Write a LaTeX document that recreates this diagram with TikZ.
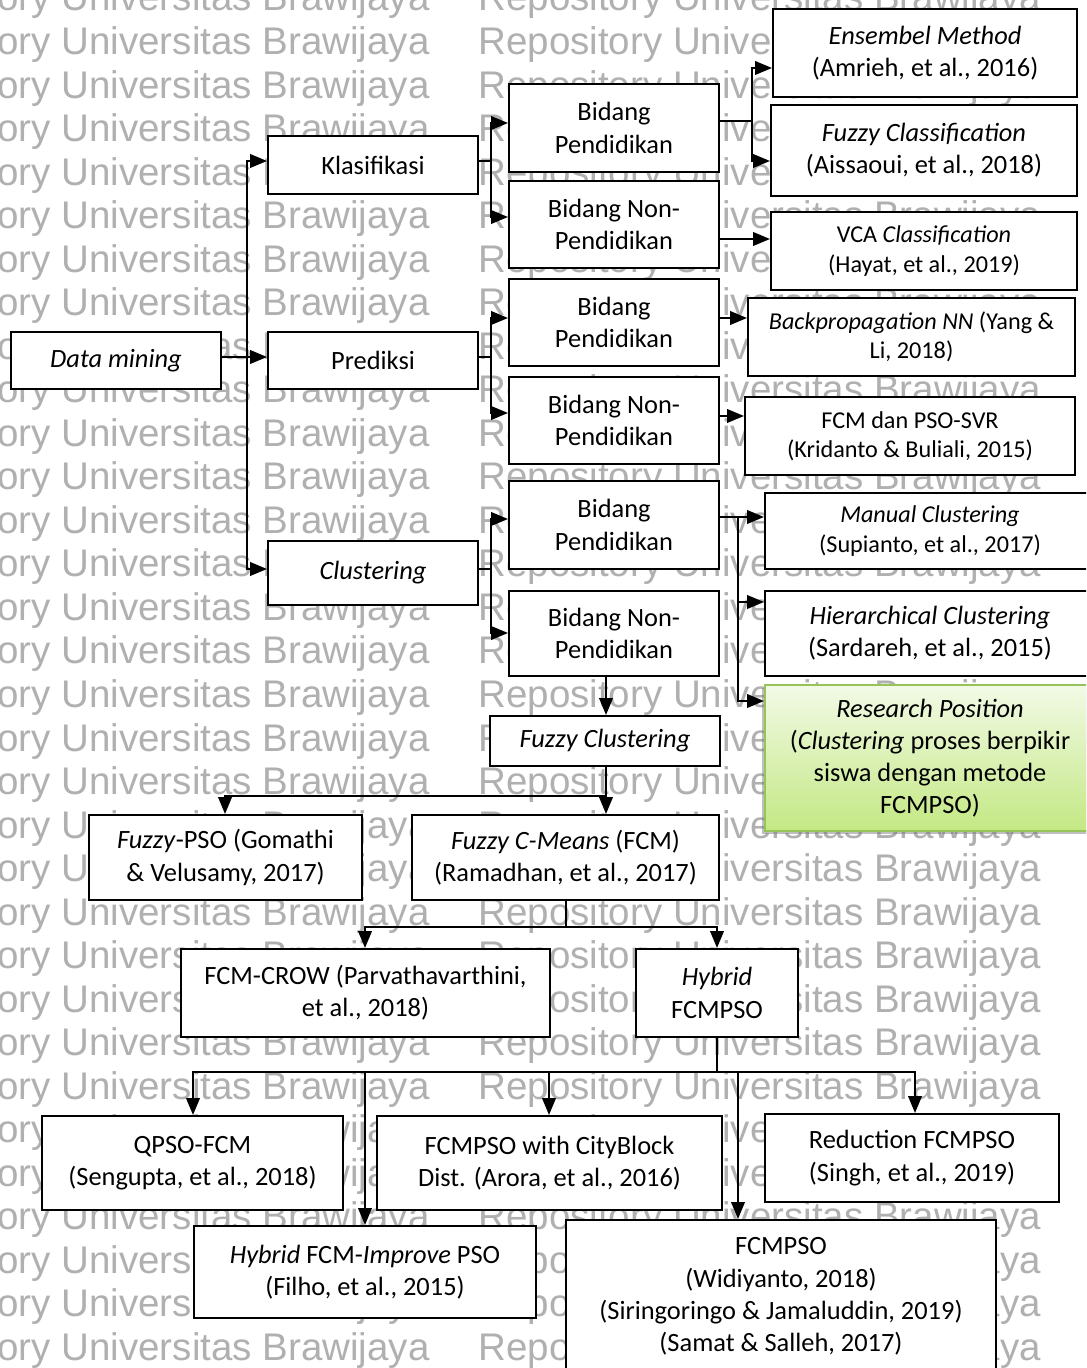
\documentclass[tikz,border=0pt]{standalone}
\usepackage{fontspec}
\setmainfont{Carlito}
\newfontfamily\wmfont{Liberation Sans}
\usetikzlibrary{arrows.meta,shadows}
\definecolor{wmgray}{RGB}{176,176,176}
\definecolor{rpTop}{RGB}{242,250,230}
\definecolor{rpBot}{RGB}{196,232,132}
\definecolor{rpLine}{RGB}{150,196,90}
\newcommand\bigf{\fontsize{13.2pt}{16.1pt}\selectfont}
\newcommand\smallf{\fontsize{12.1pt}{14.7pt}\selectfont}
\newcommand\mkbox[7][]{%
  \pgfmathsetmacro\mkw{(#5-#3)*0.5}%
  \pgfmathsetmacro\mkh{(#6-#4)*0.5}%
  \node[box,minimum width=\mkw pt,minimum height=\mkh pt,#1] (#2) at ({(#3+#5)/2},{(#4+#6)/2}) {#7};}
\begin{document}
\begin{tikzpicture}[x=0.5pt,y=-0.5pt,
  box/.style={draw, line width=1pt, fill=white, align=center, inner sep=0pt, font=\bigf},
  smallbox/.style={font=\smallf},
  arr/.style={draw, line width=1pt, -{Triangle[length=8.5pt,width=6.8pt]}},
  wm/.style={font={\wmfont\fontsize{19.25pt}{22pt}\selectfont}, text=wmgray, inner sep=0pt}]
\useasboundingbox (0,0) rectangle (1086,1368);
\clip (0,0) rectangle (1086,1368);
\fill[white] (0,0) rectangle (1086,1368);
% watermark
\foreach \k in {0,...,31} {
  \pgfmathsetmacro\yy{11+43.53*\k}
  \node[wm, anchor=base east] (wmL\k) at (430,\yy) {Repository Universitas Brawijaya};
  \node[wm, anchor=base west] (wmR\k) at (478,\yy) {Repository Universitas Brawijaya};
}
% level 1-2
\mkbox{dm}{11}{332}{221}{389}{\textit{Data mining}}
\mkbox{klas}{268}{136}{478}{194}{Klasifikasi}
\mkbox{pred}{268}{332}{478}{389}{Prediksi}
\mkbox{clus}{268}{541}{478}{605}{\textit{Clustering}}
% bidang
\mkbox{b1}{509}{84}{719}{172}{Bidang\\Pendidikan}
\mkbox{b2}{509}{181}{719}{268}{Bidang Non-\\Pendidikan}
\mkbox{b3}{509}{279}{719}{366}{Bidang\\Pendidikan}
\mkbox{b4}{509}{377}{719}{464}{Bidang Non-\\Pendidikan}
\mkbox{b5}{509}{481}{719}{569}{Bidang\\Pendidikan}
\mkbox{b6}{509}{591}{719}{676}{Bidang Non-\\Pendidikan}
% right column
\mkbox{ens}{773}{9}{1077}{97}{\textit{Ensembel Method}\\(Amrieh, et al., 2016)}
\mkbox{fcl}{771}{105}{1077}{196}{\textit{Fuzzy Classification}\\(Aissaoui, et al., 2018)}
\mkbox[smallbox]{vca}{771}{212}{1077}{290}{VCA \textit{Classification}\\(Hayat, et al., 2019)}
\mkbox[smallbox]{bp}{748}{298}{1075}{376}{\textit{Backpropagation NN} (Yang \&\\Li, 2018)}
\mkbox[smallbox]{svr}{745}{397}{1075}{475}{FCM dan PSO-SVR\\(Kridanto \& Buliali, 2015)}
\mkbox[smallbox]{man}{765}{493}{1095}{569}{\textit{Manual Clustering}\\(Supianto, et al., 2017)}
\mkbox{hier}{765}{591}{1095}{676}{\textit{Hierarchical Clustering}\\(Sardareh, et al., 2015)}
\mkbox[top color=rpTop, bottom color=rpBot, draw=rpLine,
  drop shadow={shadow xshift=-1.5pt, shadow yshift=-1.5pt, opacity=0.45, fill=black!55}]
  {rp}{765}{685}{1095}{831}{\textit{Research Position}\\(\textit{Clustering} proses berpikir\\siswa dengan metode\\FCMPSO)}
% fuzzy branch
\mkbox{fclu}{490}{716}{720}{766}{\textit{Fuzzy Clustering}}
\mkbox{fpso}{89}{815}{362}{900}{\textit{Fuzzy}-PSO (Gomathi\\\& Velusamy, 2017)}
\mkbox{fcm}{412}{815}{719}{900}{\textit{Fuzzy C-Means} (FCM)\\(Ramadhan, et al., 2017)}
\mkbox{crow}{181}{949}{550}{1037}{FCM-CROW (Parvathavarthini,\\et al., 2018)}
\mkbox{hyb}{636}{949}{798}{1037}{\textit{Hybrid}\\FCMPSO}
\mkbox{qpso}{42}{1116}{343}{1210}{QPSO-FCM\\(Sengupta, et al., 2018)}
\mkbox{city}{377}{1116}{722}{1210}{FCMPSO with CityBlock\\Dist. (Arora, et al., 2016)}
\mkbox{red}{765}{1114}{1059}{1202}{Reduction FCMPSO\\(Singh, et al., 2019)}
\mkbox{imp}{194}{1226}{536}{1318}{\textit{Hybrid} FCM-\textit{Improve} PSO\\(Filho, et al., 2015)}
\mkbox{fpm}{566}{1220}{996}{1373}{FCMPSO\\(Widiyanto, 2018)\\(Siringoringo \& Jamaluddin, 2019)\\(Samat \& Salleh, 2017)}
% connectors
\draw[arr] (dm.east |- 0,357) -| (247,161) -- (klas.west |- 0,161);
\draw[arr] (dm.east |- 0,357) -- (pred.west |- 0,357);
\draw[arr] (dm.east |- 0,357) -| (247,569) -- (clus.west |- 0,569);
\draw[arr] (klas.east |- 0,161) -| (491,123) -- (b1.west |- 0,123);
\draw[arr] (klas.east |- 0,161) -| (491,217) -- (b2.west |- 0,217);
\draw[arr] (pred.east |- 0,357) -| (491,318) -- (b3.west |- 0,318);
\draw[arr] (pred.east |- 0,357) -| (491,413) -- (b4.west |- 0,413);
\draw[arr] (clus.east |- 0,569) -| (491,519) -- (b5.west |- 0,519);
\draw[arr] (clus.east |- 0,569) -| (491,633) -- (b6.west |- 0,633);
\draw[arr] (b1.east |- 0,121) -| (752,68) -- (ens.west |- 0,68);
\draw[arr] (b1.east |- 0,121) -| (752,161) -- (fcl.west |- 0,161);
\draw[arr] (b2.east |- 0,239) -- (vca.west |- 0,239);
\draw[arr] (b3.east |- 0,318) -- (bp.west |- 0,318);
\draw[arr] (b4.east |- 0,416) -- (svr.west |- 0,416);
\draw[arr] (b5.east |- 0,517) -- (man.west |- 0,517);
\draw[arr] (b5.east |- 0,517) -| (738,602) -- (hier.west |- 0,602);
\draw[arr] (b5.east |- 0,517) -| (738,701) -- (rp.west |- 0,701);
\draw[arr] (b6.south -| 606,0) -- (fclu.north -| 606,0);
\draw[arr] (fclu.south -| 606,0) |- (225,796) -- (fpso.north -| 225,0);
\draw[arr] (fclu.south -| 606,0) -- (fcm.north -| 606,0);
\draw[arr] (fcm.south -| 566,0) |- (365,927) -- (crow.north -| 365,0);
\draw[arr] (fcm.south -| 566,0) |- (717,927) -- (hyb.north -| 717,0);
\draw[arr] (hyb.south -| 717,0) |- (193,1072) -- (qpso.north -| 193,0);
\draw[arr] (hyb.south -| 717,0) |- (365,1072) -- (imp.north -| 365,0);
\draw[arr] (hyb.south -| 717,0) |- (549,1072) -- (city.north -| 549,0);
\draw[arr] (hyb.south -| 717,0) |- (738,1072) -- (fpm.north -| 738,0);
\draw[arr] (hyb.south -| 717,0) |- (915,1072) -- (red.north -| 915,0);
\end{tikzpicture}
\end{document}
